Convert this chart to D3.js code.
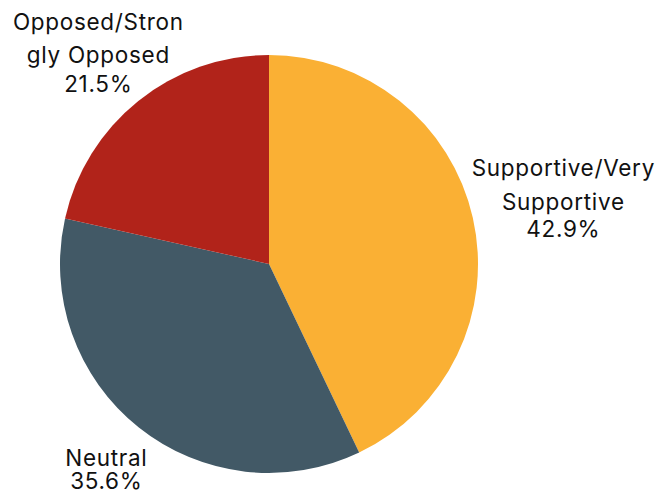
<!DOCTYPE html>
<html><head><meta charset="utf-8">
<script src="https://cdn.jsdelivr.net/npm/d3@7"></script>
<style>body{margin:0;background:#fff}svg{display:block}</style>
</head><body>
<svg id="c" width="656" height="493"></svg>
<script>
const categories = ["Supportive/Very Supportive", "Neutral", "Opposed/Strongly Opposed"];
const values = [42.9, 35.6, 21.5];
const percentLabels = ["42.9%", "35.6%", "21.5%"];
const labelLines = [["Supportive/Very", "Supportive"], ["Neutral"], ["Opposed/Stron", "gly Opposed"]];
const colors = ["#FAB034", "#425966", "#B1231A"];

const svg = d3.select("#c");
const cx = 269, cy = 264, r = 209;
const pie = d3.pie().sort(null).value(d => d)(values);
const arc = d3.arc().innerRadius(0).outerRadius(r);
const g = svg.append("g").attr("transform", `translate(${cx},${cy})`);
g.selectAll("path").data(pie).join("path")
  .attr("d", arc).attr("fill", (d, i) => colors[i]);

const labelPos = [
  {x: 563, y: 176, gaps: [34, 27]},
  {x: 106, y: 466, gaps: [23]},
  {x: 98, y: 30, gaps: [33, 29]}
];
const font = "Inter, sans-serif";
labelPos.forEach((p, i) => {
  const lines = labelLines[i].concat([percentLabels[i]]);
  const t = svg.append("text").attr("text-anchor", "middle")
    .attr("font-family", font).attr("font-size", 22.5)
    .attr("letter-spacing", 0.7).attr("fill", "#111");
  let y = p.y;
  lines.forEach((l, k) => {
    if (k > 0) y += p.gaps[k - 1];
    t.append("tspan").attr("x", p.x + 0.35).attr("y", y).text(l);
  });
});
</script>
</body></html>
